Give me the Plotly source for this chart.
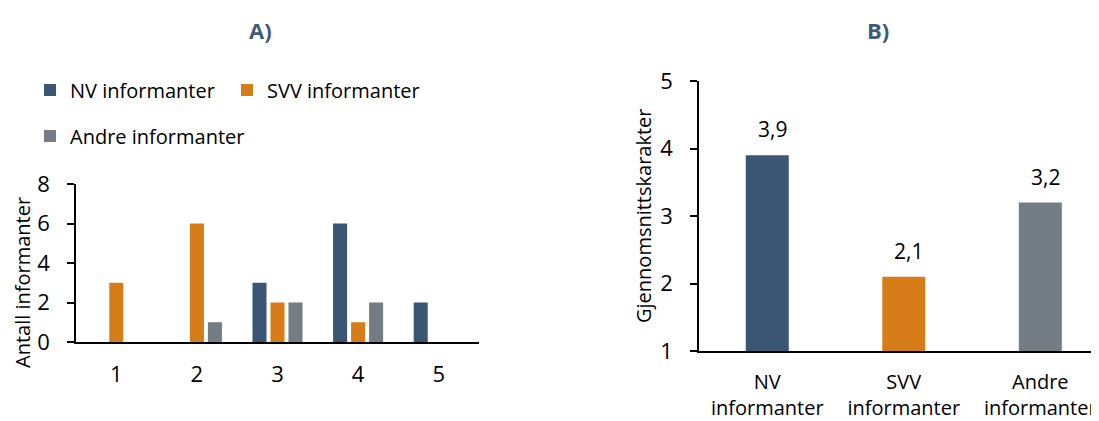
import plotly.graph_objects as go

# Panel A data
scores = ["1", "2", "3", "4", "5"]
nv_counts = [0, 0, 3, 6, 2]
svv_counts = [3, 6, 2, 1, 0]
andre_counts = [0, 1, 2, 2, 0]
series_names = ["NV informanter", "SVV informanter", "Andre informanter"]

# Panel B data
groups = ["NV<br>informanter", "SVV<br>informanter", "Andre<br>informanter"]
mean_grades = [3.9, 2.1, 3.2]

colors = ["#3B5674", "#D67D19", "#747C84"]
OFF = 8  # page body margin
W, H = 1099 - OFF, 421 - OFF
FONT = "Open Sans"
FS = 20


def fx(px):
    return (px - OFF) / W


def fy(py):
    return 1 - (py - OFF) / H


fig = go.Figure()
for name, vals, col, lg in zip(series_names, [nv_counts, svv_counts, andre_counts], colors,
                               ["legend", "legend", "legend2"]):
    fig.add_trace(go.Bar(x=scores, y=vals, name=name, marker=dict(color=col, line=dict(width=0)),
                         xaxis="x", yaxis="y", legend=lg))

fig.add_trace(go.Bar(x=groups, y=mean_grades, marker=dict(color=colors, line=dict(width=0)),
                     width=0.315, xaxis="x2", yaxis="y2", showlegend=False))

# value labels for panel B
for g, v in zip(groups, mean_grades):
    fig.add_annotation(x=g, y=v, xref="x2", yref="y2", text=f"{v:.1f}".replace(".", ","),
                       showarrow=False, yanchor="bottom", yshift=10, xshift=5,
                       font=dict(family=FONT, size=21, color="#000"))

ann = dict(xref="paper", yref="paper", showarrow=False, xanchor="center", yanchor="middle")
# titles
fig.add_annotation(x=fx(260), y=fy(30), text="<b>A)</b>",
                   font=dict(family=FONT, size=22, color="#3F5B7B"), **ann)
fig.add_annotation(x=fx(878), y=fy(30), text="<b>B)</b>",
                   font=dict(family=FONT, size=22, color="#3F5B7B"), **ann)
# axis titles
fig.add_annotation(x=fx(22), y=fy(283), text="Antall informanter", textangle=-90,
                   font=dict(family=FONT, size=FS, color="#000"), **ann)
fig.add_annotation(x=fx(643), y=fy(216), text="Gjennomsnittskarakter", textangle=-90,
                   font=dict(family=FONT, size=FS, color="#000"), **ann)

num_font = dict(family=FONT, size=22, color="#000")
cat_font = dict(family=FONT, size=20, color="#000")
fig.update_layout(
    width=W, height=H, margin=dict(l=0, r=0, t=0, b=0, autoexpand=False),
    paper_bgcolor="white", plot_bgcolor="white",
    barmode="group", bargap=0.33, bargroupgap=0.22,
    font=dict(family=FONT, size=FS, color="#000"),
    xaxis=dict(domain=[fx(76), fx(479)], anchor="y", showgrid=False, showline=True,
               linecolor="black", linewidth=2, ticks="", tickfont=num_font,
               ticklabelstandoff=12, automargin=False),
    yaxis=dict(domain=[fy(342), fy(184)], anchor="x", range=[0, 8], dtick=2,
               showgrid=False, showline=True, linecolor="black", linewidth=1.5,
               ticks="outside", ticklen=7, tickwidth=1.5, tickcolor="black",
               tickfont=num_font, ticklabelstandoff=13, zeroline=False, automargin=False),
    xaxis2=dict(domain=[fx(699), 1.0], anchor="y2", range=[-0.5, 2.43], showgrid=False,
                showline=True, linecolor="black", linewidth=2, ticks="", tickfont=cat_font,
                ticklabelstandoff=12, automargin=False),
    yaxis2=dict(domain=[fy(351), fy(81)], anchor="x2", range=[1, 5], dtick=1,
                showgrid=False, showline=True, linecolor="black", linewidth=1.5,
                ticks="outside", ticklen=7, tickwidth=1.5, tickcolor="black",
                tickfont=num_font, ticklabelstandoff=13, zeroline=False, automargin=False),
    legend=dict(orientation="h", x=fx(30), y=fy(90), xanchor="left", yanchor="middle",
                font=dict(family=FONT, size=FS, color="#000"), entrywidth=152,
                bgcolor="rgba(0,0,0,0)"),
    legend2=dict(orientation="h", x=fx(30), y=fy(136), xanchor="left", yanchor="middle",
                 font=dict(family=FONT, size=FS, color="#000"), bgcolor="rgba(0,0,0,0)"),
)

fig.write_html("out.html")
